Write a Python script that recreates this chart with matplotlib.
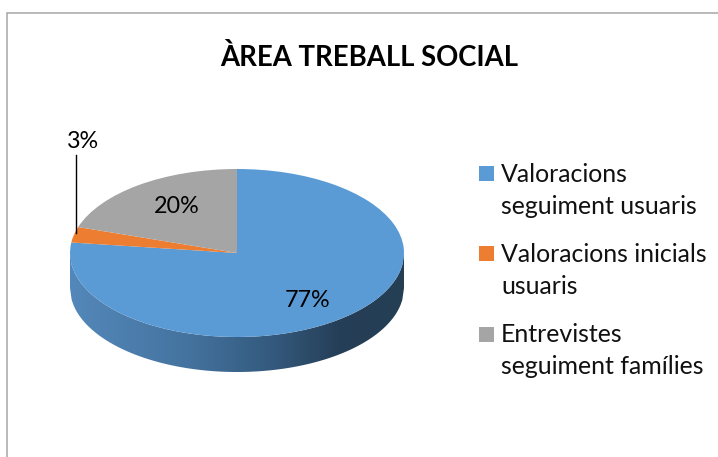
import numpy as np
import matplotlib
matplotlib.use("Agg")
import matplotlib.pyplot as plt
from matplotlib.colors import LinearSegmentedColormap
from matplotlib.patches import Polygon, Rectangle

W, H = 718, 457

title = "ÀREA TREBALL SOCIAL"
categories = ["Valoracions\nseguiment usuaris", "Valoracions inicials\nusuaris", "Entrevistes\nseguiment famílies"]
values = [77, 3, 20]
colors = ["#5b9bd5", "#ed7d31", "#a5a5a5"]

plt.rcParams["font.family"] = ["Lato", "DejaVu Sans"]
fig = plt.figure(figsize=(W / 100, H / 100), dpi=100)

# full figure axes in pixel units, for the frame, legend and labels
bg = fig.add_axes([0, 0, 1, 1])
bg.set_xlim(0, W)
bg.set_ylim(H, 0)
bg.axis("off")
bg.plot([6.5, 6.5, W], [H, 12.5, 12.5], color="#a6a6a6", lw=1.1, solid_joinstyle="miter")
bg.text(369, 57, title, ha="center", va="center", fontsize=19.8, fontweight="bold", color="black")

# pie axes: top ellipse spans x 70-404, y 169-337 px
depth = 35 / 84
x0, x1, y0, y1 = 70, 404, 169, 337
y1_full = y1 + 35
ax = fig.add_axes([x0 / W, 1 - y1_full / H, (x1 - x0) / W, (y1_full - y0) / H])
ax.pie(values, colors=colors, startangle=90, counterclock=False, radius=1, center=(0, 0),
       wedgeprops={"linewidth": 0}, frame=False)
ax.set_aspect("auto")
ax.set_xlim(-1, 1)
ax.set_ylim(-1 - depth, 1)
ax.axis("off")

# side wall with the left-to-right shading
cmap = LinearSegmentedColormap.from_list(
    "wall", [(0, "#5488ba"), (0.35, "#44739f"), (0.6, "#345a7e"), (0.8, "#263f58"), (1, "#243e54")])
xs = np.linspace(-1, 1, 200)
top = -np.sqrt(1 - xs ** 2)
outline = np.column_stack([np.r_[xs, xs[::-1]], np.r_[top, top[::-1] - depth]])
wall = Polygon(outline, closed=True, transform=ax.transData, fc="none", ec="none")
ax.add_patch(wall)
img = ax.imshow(np.linspace(0, 1, 256).reshape(1, -1), cmap=cmap, extent=(-1, 1, -1 - depth, 0),
                aspect="auto", zorder=0, interpolation="bilinear")
img.set_clip_path(wall)
ax.set_xlim(-1, 1)
ax.set_ylim(-1 - depth, 1)

# data labels
fs = 16.8
top_ax = fig.add_axes([0, 0, 1, 1])
top_ax.set_xlim(0, W)
top_ax.set_ylim(H, 0)
top_ax.axis("off")
top_ax.text(307.5, 300.5, f"{values[0]}%", ha="center", va="center", fontsize=fs, color="black")
top_ax.text(83, 141.5, f"{values[1]}%", ha="center", va="center", fontsize=fs, color="black")
top_ax.text(177, 206.5, f"{values[2]}%", ha="center", va="center", fontsize=fs, color="black")
top_ax.plot([75.5, 75.5], [155, 233], color="black", lw=1)

# legend
fs_legend = 17.9
legend_y = [173, 253, 334]
for label, color, y in zip(categories, colors, legend_y):
    top_ax.add_patch(Rectangle((479, y - 7), 15, 15, fc=color, ec="none"))
    first, second = label.split("\n")
    top_ax.text(501, y + 1, first, ha="left", va="center", fontsize=fs_legend, color="#111111")
    top_ax.text(501, y + 33, second, ha="left", va="center", fontsize=fs_legend, color="#111111")

fig.savefig("out.png", dpi=100)
